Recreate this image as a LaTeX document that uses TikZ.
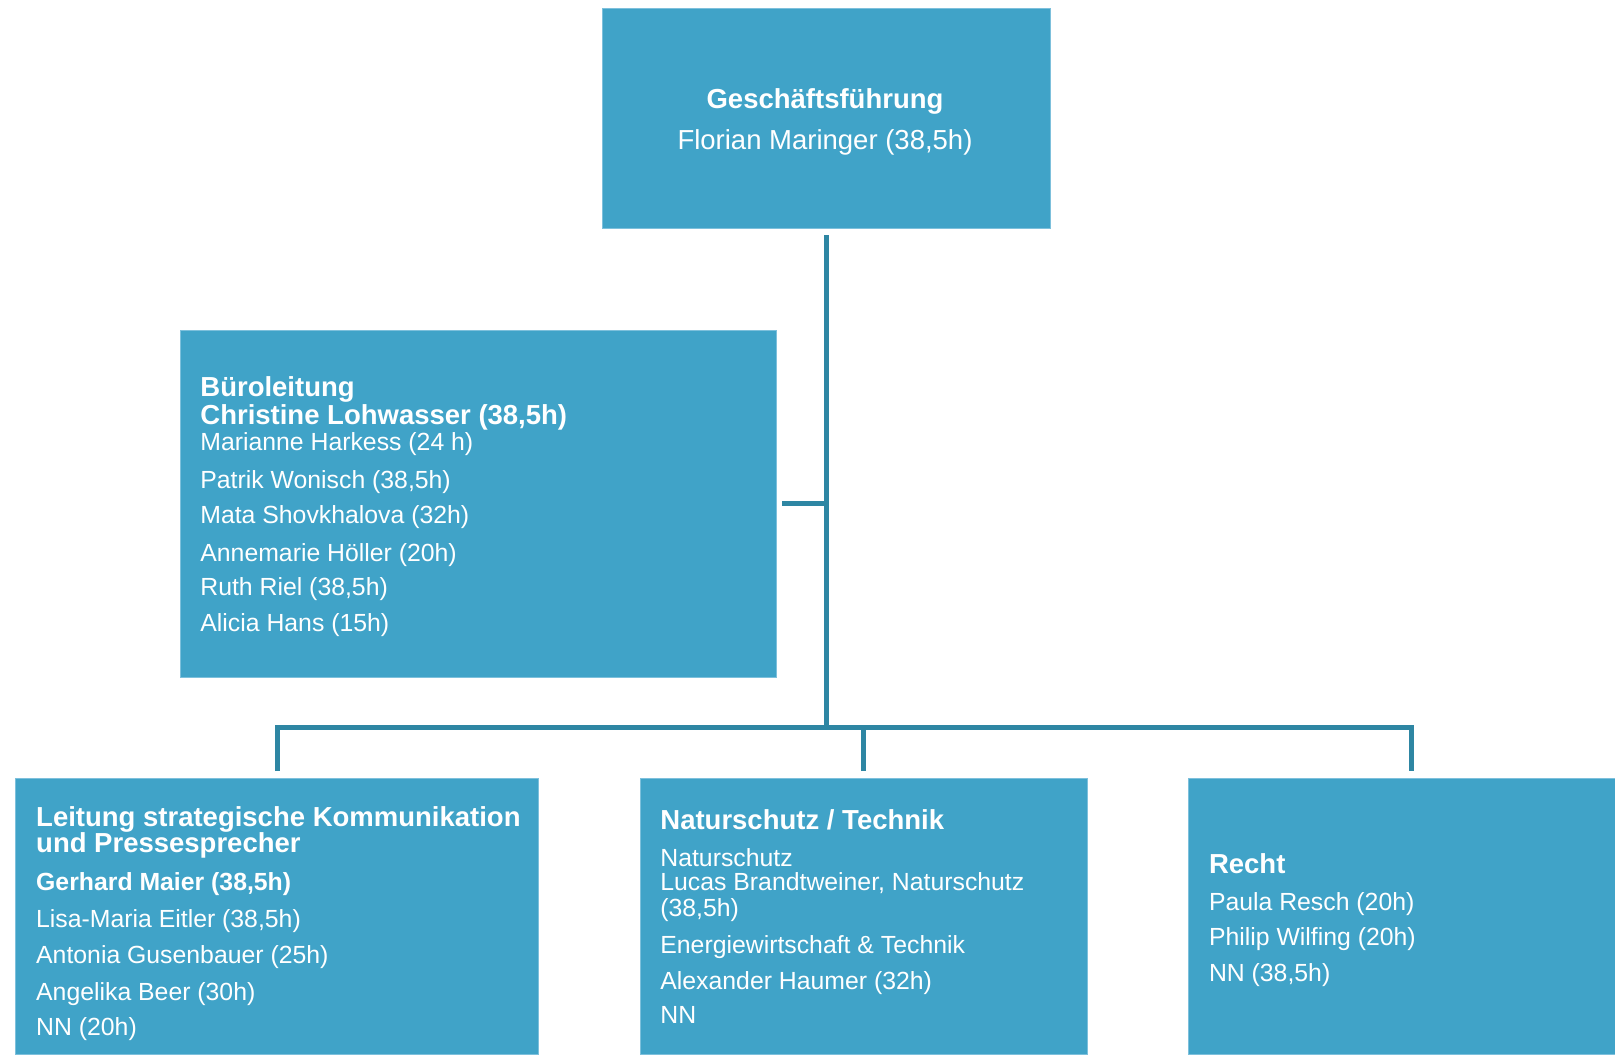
\documentclass[tikz,border=0pt]{standalone}
\usepackage{fontspec}
\setmainfont{Liberation Sans}
\definecolor{boxblue}{HTML}{40A3C8}
\definecolor{boxedge}{HTML}{7DC0DC}
\definecolor{linecol}{HTML}{2E86A3}
\tikzset{
  unitbox/.style={rectangle, fill=boxblue, draw=boxedge, line width=0.8pt, inner sep=0pt},
  conn/.style={draw=linecol, line width=5pt},
  hd/.style={text=white, inner sep=0pt, anchor=base west, font=\fontsize{27.5}{27.5}\selectfont\bfseries},
  tb/.style={text=white, inner sep=0pt, anchor=base west, font=\fontsize{24.8}{24.8}\selectfont\bfseries},
  tx/.style={text=white, inner sep=0pt, anchor=base west, font=\fontsize{24.8}{24.8}\selectfont},
}
\begin{document}
\begin{tikzpicture}[x=1pt,y=-1pt]
\useasboundingbox (0,0) rectangle (1615,1055);
% boxes
\node[unitbox, minimum width=448pt, minimum height=220.5pt] (g) at (826,118.5) {};
\node[unitbox, minimum width=596pt, minimum height=346.7pt] (b) at (478,503.7) {};
\node[unitbox, minimum width=523.2pt, minimum height=275.5pt] (k) at (277.1,916.2) {};
\node[unitbox, minimum width=447pt, minimum height=275.5pt] (n) at (863.5,916.2) {};
\node[unitbox, minimum width=447pt, minimum height=275.5pt] (r) at (1411.5,916.2) {};
% connectors
\coordinate (j) at (826,727.5);
\draw[conn, shorten <=6pt] (g.south) -- (j);
\draw[conn, shorten <=6pt] (b.east) -- (b.east -| j);
\draw[conn, shorten <=7pt, shorten >=7pt] (k.north) |- (r.north |- j) -- (r.north);
\draw[conn, shorten <=7pt] (n.north) -- (n.north |- j);
% top box text
\node[hd, anchor=base] (g1) at (825,108.3) {Geschäftsführung};
\node[hd, anchor=base, font=\fontsize{27.5}{27.5}\selectfont] (g2) at (825,149) {Florian Maringer (38,5h)};
% Büroleitung
\node[hd] (b1) at (200.2,396.7) {Büroleitung};
\node[hd] (b2) at (200.2,424) {Christine Lohwasser (38,5h)};
\node[tx] (b3) at (200.2,450.7) {Marianne Harkess (24 h)};
\node[tx] (b4) at (200.2,488) {Patrik Wonisch (38,5h)};
\node[tx] (b5) at (200.2,523.3) {Mata Shovkhalova (32h)};
\node[tx] (b6) at (200.2,561) {Annemarie Höller (20h)};
\node[tx] (b7) at (200.2,595) {Ruth Riel (38,5h)};
\node[tx] (b8) at (200.2,631.7) {Alicia Hans (15h)};
% Kommunikation
\node[hd] (k1) at (36,826) {Leitung strategische Kommunikation};
\node[hd] (k2) at (36,852.7) {und Pressesprecher};
\node[tb] (k3) at (36,890.7) {Gerhard Maier (38,5h)};
\node[tx] (k4) at (36,927.7) {Lisa-Maria Eitler (38,5h)};
\node[tx] (k5) at (36,963.3) {Antonia Gusenbauer (25h)};
\node[tx] (k6) at (36,1000) {Angelika Beer (30h)};
\node[tx] (k7) at (36,1035) {NN (20h)};
% Naturschutz / Technik
\node[hd] (n1) at (660.2,829) {Naturschutz / Technik};
\node[tx] (n2) at (660.2,866.7) {Naturschutz};
\node[tx] (n3) at (660.2,890) {Lucas Brandtweiner, Naturschutz};
\node[tx] (n4) at (660.2,916.7) {(38,5h)};
\node[tx] (n5) at (660.2,953.3) {Energiewirtschaft \& Technik};
\node[tx] (n6) at (660.2,989.3) {Alexander Haumer (32h)};
\node[tx] (n7) at (660.2,1023.3) {NN};
% Recht
\node[hd] (r1) at (1208.8,873.3) {Recht};
\node[tx] (r2) at (1208.8,910) {Paula Resch (20h)};
\node[tx] (r3) at (1208.8,945.7) {Philip Wilfing (20h)};
\node[tx] (r4) at (1208.8,981.7) {NN (38,5h)};
\end{tikzpicture}
\end{document}
